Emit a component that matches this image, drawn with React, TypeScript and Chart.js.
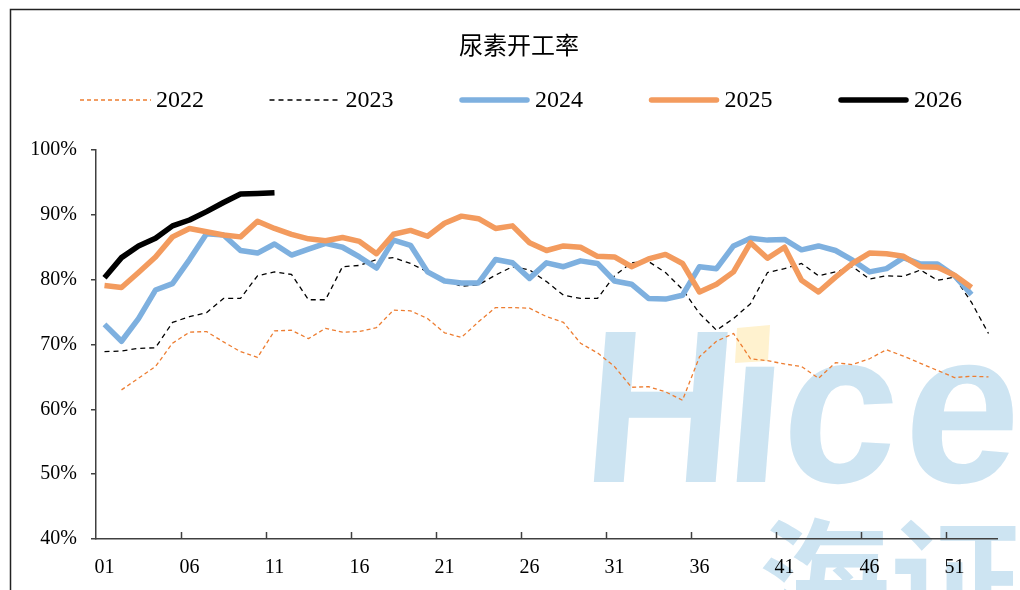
import React, { useEffect, useRef } from "react";
import { Chart, registerables } from "chart.js";

Chart.register(...registerables);

const chartTitle = "尿素开工率";

const weeks = [
  "01", "02", "03", "04", "05", "06", "07", "08", "09", "10",
  "11", "12", "13", "14", "15", "16", "17", "18", "19", "20",
  "21", "22", "23", "24", "25", "26", "27", "28", "29", "30",
  "31", "32", "33", "34", "35", "36", "37", "38", "39", "40",
  "41", "42", "43", "44", "45", "46", "47", "48", "49", "50",
  "51", "52", "53",
];

const yTickValues = [40, 50, 60, 70, 80, 90, 100];

const y2022 = [
  null, 63.0, 64.8, 66.6, 70.2, 71.9, 72.0, 70.4, 68.9, 68.0,
  72.1, 72.2, 70.9, 72.5, 71.9, 72.0, 72.6, 75.3, 75.2, 74.0,
  71.8, 71.1, 73.5, 75.7, 75.7, 75.6, 74.3, 73.4, 70.2, 68.7,
  66.6, 63.4, 63.5, 62.7, 61.4, 68.1, 70.5, 71.7, 67.8, 67.5,
  67.0, 66.6, 64.8, 67.2, 66.9, 67.8, 69.2, 68.2, 67.1, 66.0,
  64.9, 65.1, 65.0,
];

const y2023 = [
  68.9, 69.0, 69.4, 69.5, 73.4, 74.3, 74.9, 77.1, 77.1, 80.6,
  81.2, 80.8, 76.9, 76.9, 82.0, 82.2, 83.1, 83.4, 82.5, 81.2,
  79.9, 79.0, 79.2, 80.7, 82.0, 81.5, 79.7, 77.6, 77.1, 77.1,
  80.6, 82.6, 82.8, 81.1, 78.5, 74.8, 72.2, 74.0, 76.3, 81.1,
  81.7, 82.5, 80.6, 81.2, 82.0, 80.1, 80.6, 80.5, 81.5, 79.9,
  80.4, 76.5, 71.7,
];

const y2024 = [
  73.1, 70.5, 74.0, 78.4, 79.4, 83.1, 87.1, 86.9, 84.5, 84.1,
  85.5, 83.8, 84.7, 85.6, 85.0, 83.5, 81.8, 86.1, 85.3, 81.2,
  79.8, 79.5, 79.5, 83.1, 82.6, 80.2, 82.6, 82.0, 82.9, 82.5,
  79.8, 79.3, 77.1, 77.0, 77.6, 82.0, 81.7, 85.2, 86.4, 86.1,
  86.2, 84.6, 85.2, 84.5, 83.0, 81.2, 81.7, 83.4, 82.4, 82.4,
  80.6, 77.7, null,
];

const y2025 = [
  79.1, 78.8, 81.1, 83.5, 86.6, 87.9, 87.4, 86.9, 86.6, 89.0,
  87.9, 87.0, 86.3, 86.0, 86.5, 85.9, 84.0, 87.0, 87.6, 86.7,
  88.7, 89.8, 89.4, 87.9, 88.3, 85.7, 84.5, 85.2, 85.0, 83.6,
  83.5, 82.0, 83.2, 83.9, 82.5, 78.1, 79.3, 81.2, 85.7, 83.3,
  85.0, 79.9, 78.1, 80.4, 82.5, 84.1, 84.0, 83.6, 82.0, 81.9,
  80.7, 78.8, null,
];

const y2026 = [80.3, 83.4, 85.2, 86.4, 88.3, 89.2, 90.5, 91.9, 93.2, 93.3, 93.4];

const seriesLabels = ["2022", "2023", "2024", "2025", "2026"];

const watermarkLetters = ["H", "\u0131", "c", "e"];
const watermarkCjk = "海证";

const decorPlugin = {
  id: "decor",
  beforeDraw(chart: any) {
    const ctx = chart.ctx as CanvasRenderingContext2D;
    ctx.save();
    // watermark
    const wmBlue = "#CDE4F2";
    const letterX = [580, 722, 778, 900];
    const baseY = 482;
    ctx.fillStyle = wmBlue;
    ctx.font = "bold 218px 'Liberation Sans'";
    ctx.textBaseline = "alphabetic";
    ctx.textAlign = "left";
    watermarkLetters.forEach((ch, i) => {
      ctx.save();
      ctx.translate(letterX[i], baseY);
      ctx.transform(0.95, 0, -0.08, 1, 0, 0);
      ctx.fillText(ch, 0, 0);
      ctx.restore();
    });
    // yellow dot of the "i"
    ctx.fillStyle = "#FFF2CF";
    ctx.beginPath();
    ctx.moveTo(737, 328);
    ctx.lineTo(770, 325);
    ctx.lineTo(768, 361);
    ctx.lineTo(735, 363);
    ctx.closePath();
    ctx.fill();
    ctx.fillStyle = wmBlue;
    ctx.font = "bold 132px 'Noto Sans CJK SC'";
    ctx.fillText(watermarkCjk, 758, 630);
    // frame
    ctx.strokeStyle = "#222";
    ctx.lineWidth = 1.5;
    ctx.strokeRect(10.5, 9.5, 1200, 800);
    // title
    ctx.fillStyle = "#000";
    ctx.font = "24px 'Noto Sans CJK SC'";
    ctx.textAlign = "center";
    ctx.textBaseline = "middle";
    ctx.fillText(chartTitle, 519, 45);
    ctx.restore();
  },
  afterDraw(chart: any) {
    const ctx = chart.ctx as CanvasRenderingContext2D;
    ctx.save();
    // x tick marks (inward) every 5 categories
    const xs = chart.scales.x;
    const bottom = chart.chartArea.bottom;
    ctx.strokeStyle = "#404040";
    ctx.lineWidth = 1.5;
    for (let i = 5; i < weeks.length; i += 5) {
      const px = (xs.getPixelForTick(i - 1) + xs.getPixelForTick(i)) / 2;
      ctx.beginPath();
      ctx.moveTo(Math.round(px) + 0.5, bottom);
      ctx.lineTo(Math.round(px) + 0.5, bottom - 7);
      ctx.stroke();
    }
    // legend
    ctx.font = "24px 'Liberation Serif'";
    ctx.textAlign = "left";
    ctx.textBaseline = "middle";
    const lineLen = 71;
    const textGap = 5;
    const itemGap = 65.5;
    const ds = chart.data.datasets;
    const widths = ds.map((d: any) => lineLen + textGap + ctx.measureText(d.label).width);
    const total = widths.reduce((a: number, b: number) => a + b, 0) + itemGap * (ds.length - 1);
    let x = 521 - total / 2;
    const y = 100;
    ds.forEach((d: any, i: number) => {
      ctx.beginPath();
      ctx.setLineDash(d.borderDash || []);
      ctx.lineWidth = d.borderDash ? 1.5 : d.borderWidth;
      ctx.strokeStyle = d.borderColor;
      ctx.lineCap = d.borderDash ? "butt" : "round";
      const inset = d.borderDash ? 0 : 3;
      ctx.moveTo(x + inset, y);
      ctx.lineTo(x + lineLen - inset, y);
      ctx.stroke();
      ctx.setLineDash([]);
      ctx.fillStyle = "#000";
      ctx.fillText(d.label, x + lineLen + textGap, y + 1);
      x += widths[i] + itemGap;
    });
    ctx.restore();
  },
};

export default function App() {
  const canvasRef = useRef<HTMLCanvasElement | null>(null);

  useEffect(() => {
    if (!canvasRef.current) return;
    const tickFont = { family: "'Liberation Serif'", size: 20 };
    const chart = new Chart(canvasRef.current, {
      type: "line",
      data: {
        labels: weeks,
        datasets: [
          {
            label: seriesLabels[0],
            data: y2022,
            borderColor: "#ED7D31",
            borderWidth: 1.3,
            borderDash: [4, 3],
            order: 5,
          },
          {
            label: seriesLabels[1],
            data: y2023,
            borderColor: "#000000",
            borderWidth: 1.3,
            borderDash: [5, 4],
            order: 4,
          },
          {
            label: seriesLabels[2],
            data: y2024,
            borderColor: "#7EB0DF",
            borderWidth: 5.5,
            order: 3,
          },
          {
            label: seriesLabels[3],
            data: y2025,
            borderColor: "#F39B5E",
            borderWidth: 5.5,
            order: 2,
          },
          {
            label: seriesLabels[4],
            data: y2026,
            borderColor: "#000000",
            borderWidth: 5.5,
            order: 1,
          },
        ] as any,
      },
      options: {
        animation: false,
        responsive: false,
        maintainAspectRatio: false,
        layout: { padding: { top: 150, left: 16, right: 23, bottom: 11 } },
        elements: {
          point: { radius: 0, hoverRadius: 0 },
          line: { tension: 0, borderJoinStyle: "round", borderCapStyle: "butt", fill: false },
        },
        plugins: {
          legend: { display: false },
          title: { display: false },
          tooltip: { enabled: false },
        },
        scales: {
          x: {
            type: "category",
            offset: true,
            grid: { display: false, drawTicks: false },
            border: { display: true, color: "#404040", width: 1.5 },
            ticks: {
              autoSkip: false,
              maxRotation: 0,
              minRotation: 0,
              padding: 17,
              color: "#000",
              font: tickFont,
              callback: (_v: any, i: number) => (i % 5 === 0 ? weeks[i] : ""),
            },
            afterFit: (s: any) => {
              s.height = 40;
            },
          },
          y: {
            min: yTickValues[0],
            max: yTickValues[yTickValues.length - 1],
            afterBuildTicks: (s: any) => {
              s.ticks = yTickValues.map((v) => ({ value: v }));
            },
            grid: {
              drawOnChartArea: false,
              drawTicks: true,
              tickLength: 5,
              color: "#404040",
              lineWidth: 1.5,
            },
            border: { display: true, color: "#404040", width: 1.5 },
            ticks: {
              padding: 14,
              color: "#000",
              font: tickFont,
              callback: (v: any) => `${v}%`,
            },
            afterFit: (s: any) => {
              s.width = 80;
            },
          },
        },
      },
      plugins: [decorPlugin],
    });
    return () => chart.destroy();
  }, []);

  return (
    <div style={{ position: "absolute", left: 0, top: 0, width: 1020, height: 590, overflow: "hidden", background: "#fff" }}>
      <canvas ref={canvasRef} width={1020} height={590} style={{ display: "block", width: 1020, height: 590 }} />
    </div>
  );
}
